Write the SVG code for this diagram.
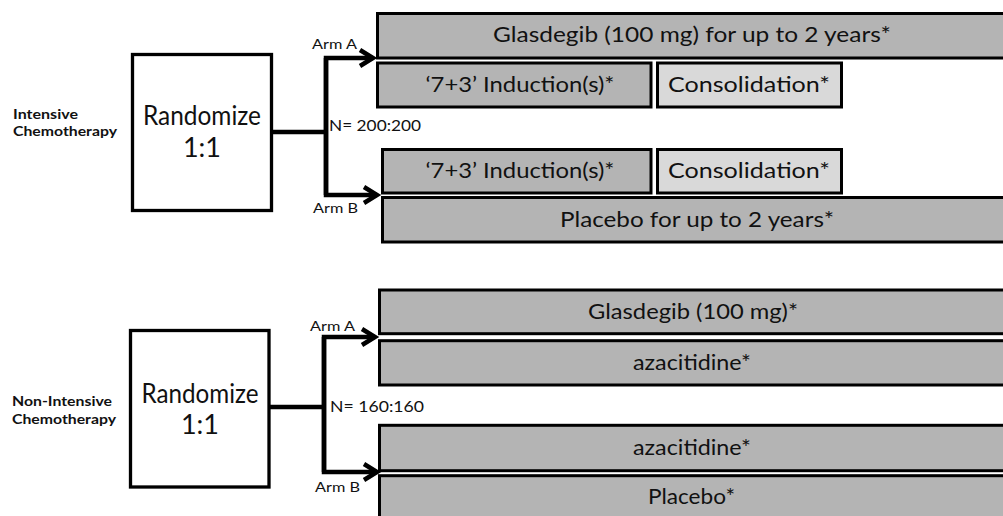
<svg xmlns="http://www.w3.org/2000/svg" width="1003" height="516" viewBox="0 0 1003 516">
  <style>
    .box { stroke: #000; stroke-width: 3; }
    .arm { fill: #b4b4b4; }
    .light { fill: #d9d9d9; }
    .rand { fill: #fff; stroke: #000; stroke-width: 3.3; }
    .t { font-family: Lato, "Open Sans", "Liberation Sans", sans-serif; fill: #111; }
    .bt { font-size: 21px; text-anchor: middle; }
    .rt { font-size: 27px; text-anchor: middle; }
    .lab { font-size: 13.5px; }
    .grp { font-size: 14px; font-weight: bold; }
    .n { font-size: 15.5px; }
    .wire { fill: none; stroke: #000; stroke-width: 4.5; }
  </style>
  <defs>
    <marker id="head" markerUnits="userSpaceOnUse" viewBox="-16 -10 18 20" refX="0" refY="0" markerWidth="18" markerHeight="20" orient="auto" overflow="visible">
      <path d="M-13,-8 L0,0 L-13,8" fill="none" stroke="#000" stroke-width="4.5" stroke-linejoin="miter"/>
    </marker>
  </defs>
  <rect width="1003" height="516" fill="#fff"/>

  <!-- Intensive chemotherapy study -->
  <g id="label-intensive">
    <text class="t grp" x="13" y="119" textLength="65" lengthAdjust="spacingAndGlyphs">Intensive</text>
    <text class="t grp" x="13" y="136" textLength="104" lengthAdjust="spacingAndGlyphs">Chemotherapy</text>
  </g>
  <g id="randomize-intensive">
    <rect class="rand" x="132.5" y="54.5" width="139" height="156"/>
    <text class="t rt" x="202" y="125" textLength="118" lengthAdjust="spacingAndGlyphs">Randomize</text>
    <text class="t rt" x="202" y="157">1:1</text>
  </g>
  <g id="intensive-arm-a">
    <rect class="box arm" x="377.5" y="13.5" width="640" height="44.5"/>
    <text class="t bt" x="692" y="42" textLength="398" lengthAdjust="spacingAndGlyphs">Glasdegib (100 mg) for up to 2 years*</text>
    <rect class="box arm" x="377.5" y="63" width="273.5" height="44"/>
    <text class="t bt" x="520" y="92" textLength="189" lengthAdjust="spacingAndGlyphs">‘7+3’ Induction(s)*</text>
    <rect class="box light" x="657.5" y="63" width="184" height="44"/>
    <text class="t bt" x="749" y="92" textLength="162" lengthAdjust="spacingAndGlyphs">Consolidation*</text>
  </g>
  <g id="intensive-arm-b">
    <rect class="box arm" x="382.5" y="149.5" width="268.5" height="43.5"/>
    <text class="t bt" x="520" y="178" textLength="189" lengthAdjust="spacingAndGlyphs">‘7+3’ Induction(s)*</text>
    <rect class="box light" x="657.5" y="149.5" width="184" height="43.5"/>
    <text class="t bt" x="749" y="178" textLength="162" lengthAdjust="spacingAndGlyphs">Consolidation*</text>
    <rect class="box arm" x="382.5" y="197.5" width="640" height="44.5"/>
    <text class="t bt" x="697" y="227" textLength="274" lengthAdjust="spacingAndGlyphs">Placebo for up to 2 years*</text>
  </g>

  <!-- Non-intensive chemotherapy study -->
  <g id="label-non-intensive">
    <text class="t grp" x="12" y="406" textLength="100" lengthAdjust="spacingAndGlyphs">Non-Intensive</text>
    <text class="t grp" x="12" y="424" textLength="104" lengthAdjust="spacingAndGlyphs">Chemotherapy</text>
  </g>
  <g id="randomize-non-intensive">
    <rect class="rand" x="130.5" y="330.5" width="138.5" height="156.5"/>
    <text class="t rt" x="200" y="403" textLength="117" lengthAdjust="spacingAndGlyphs">Randomize</text>
    <text class="t rt" x="200" y="434">1:1</text>
  </g>
  <g id="non-intensive-arm-a">
    <rect class="box arm" x="379.5" y="290" width="640" height="43.7"/>
    <text class="t bt" x="693" y="319" textLength="210" lengthAdjust="spacingAndGlyphs">Glasdegib (100 mg)*</text>
    <rect class="box arm" x="379.5" y="340.7" width="640" height="44.3"/>
    <text class="t bt" x="692" y="370" textLength="118" lengthAdjust="spacingAndGlyphs">azacitidine*</text>
  </g>
  <g id="non-intensive-arm-b">
    <rect class="box arm" x="379.5" y="425.3" width="640" height="45.4"/>
    <text class="t bt" x="692" y="455" textLength="118" lengthAdjust="spacingAndGlyphs">azacitidine*</text>
    <rect class="box arm" x="379.5" y="475.7" width="640" height="60"/>
    <text class="t bt" x="691.5" y="504" textLength="87" lengthAdjust="spacingAndGlyphs">Placebo*</text>
  </g>

  <!-- Randomisation branches -->
  <g id="connectors">
    <path class="wire" d="M271,132 H326"/>
    <path class="wire" d="M326,195 V58 H373" marker-end="url(#head)"/>
    <path class="wire" d="M326,58 V195 H377" marker-end="url(#head)"/>
    <path class="wire" d="M268,407 H324"/>
    <path class="wire" d="M324,472 V337 H375" marker-end="url(#head)"/>
    <path class="wire" d="M324,337 V472 H377" marker-end="url(#head)"/>
  </g>
  <g id="connector-labels">
    <text class="t lab" x="312" y="49" textLength="45" lengthAdjust="spacingAndGlyphs">Arm A</text>
    <text class="t lab" x="313" y="213" textLength="45" lengthAdjust="spacingAndGlyphs">Arm B</text>
    <text class="t n" x="329" y="131" textLength="92" lengthAdjust="spacingAndGlyphs">N= 200:200</text>
    <text class="t lab" x="310" y="331" textLength="45" lengthAdjust="spacingAndGlyphs">Arm A</text>
    <text class="t lab" x="315" y="492" textLength="45" lengthAdjust="spacingAndGlyphs">Arm B</text>
    <text class="t n" x="330" y="412" textLength="94" lengthAdjust="spacingAndGlyphs">N= 160:160</text>
  </g>
</svg>
